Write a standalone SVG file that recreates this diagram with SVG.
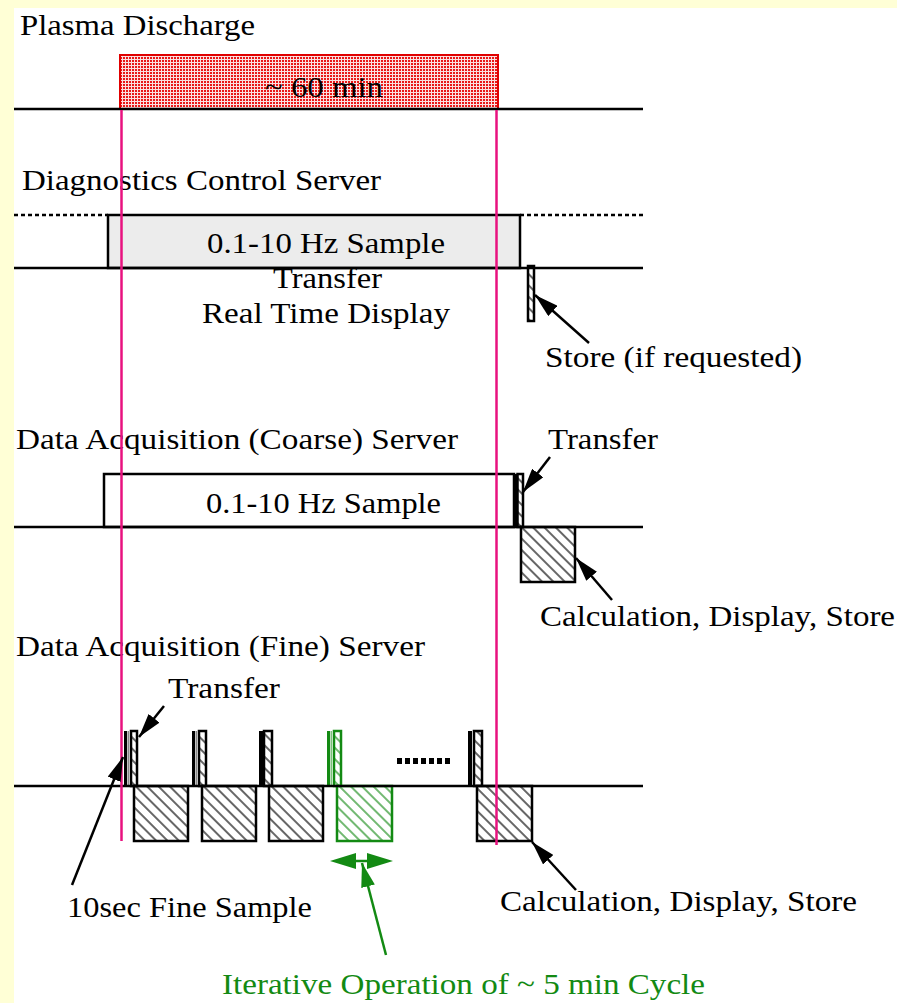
<svg xmlns="http://www.w3.org/2000/svg" width="897" height="1003" viewBox="0 0 897 1003">
  <style>
    text { font-family: "Liberation Serif", "Times New Roman", serif; font-size: 29px; fill: #000; }
    .grn { fill: #138a13; }
    .axis { stroke: #000; stroke-width: 2.5; fill: none; }
    .marker-line { stroke: #e8127f; stroke-width: 2.5; fill: none; }
    .hatch { fill: url(#hatch); stroke: #000; stroke-width: 2.5; }
    .hatch-g { fill: url(#hatchG); stroke: #138a13; stroke-width: 2.5; }
    .lead { stroke: #000; stroke-width: 2.5; fill: none; }
    .lead-g { stroke: #138a13; stroke-width: 2.5; fill: none; }
  </style>
  <defs>
    <pattern id="hatch" width="8" height="8" patternUnits="userSpaceOnUse" patternTransform="rotate(45)">
      <rect width="8" height="8" fill="#fff"/>
      <line x1="0" y1="4" x2="8" y2="4" stroke="#000" stroke-width="1.2"/>
    </pattern>
    <pattern id="hatchG" width="8" height="8" patternUnits="userSpaceOnUse" patternTransform="rotate(45)">
      <rect width="8" height="8" fill="#fff"/>
      <line x1="0" y1="4" x2="8" y2="4" stroke="#138a13" stroke-width="1.2"/>
    </pattern>
    <pattern id="dots" width="3" height="3" patternUnits="userSpaceOnUse">
      <rect width="3" height="3" fill="#fbe0e0"/>
      <rect width="2" height="2" fill="#e81818"/>
    </pattern>
    <marker id="arrow" viewBox="0 0 24 14" refX="24" refY="7" markerWidth="24" markerHeight="14" markerUnits="userSpaceOnUse" orient="auto">
      <path d="M0,0 L24,7 L0,14 Z" fill="#000"/>
    </marker>
    <marker id="arrowG" viewBox="0 0 24 14" refX="24" refY="7" markerWidth="24" markerHeight="14" markerUnits="userSpaceOnUse" orient="auto">
      <path d="M0,0 L24,7 L0,14 Z" fill="#138a13"/>
    </marker>
  </defs>

  <!-- page -->
  <rect width="897" height="1003" fill="#fff"/>
  <rect x="0" y="0" width="897" height="8" fill="#ffffd6"/>
  <rect x="0" y="0" width="14" height="1003" fill="#ffffd6"/>

  <!-- Plasma discharge -->
  <g id="plasma">
    <text x="20" y="35" textLength="235" lengthAdjust="spacingAndGlyphs">Plasma Discharge</text>
    <rect x="120" y="55" width="378" height="54" fill="url(#dots)" stroke="#e00000" stroke-width="2"/>
    <text x="265" y="97" textLength="118" lengthAdjust="spacingAndGlyphs">~ 60 min</text>
  </g>

  <!-- Diagnostics control server -->
  <g id="dcs">
    <text x="22" y="190" textLength="359" lengthAdjust="spacingAndGlyphs">Diagnostics Control Server</text>
    <rect x="108" y="215" width="412" height="53" fill="#ececec" stroke="#000" stroke-width="2.5"/>
    <text x="207" y="253" textLength="238" lengthAdjust="spacingAndGlyphs">0.1-10 Hz Sample</text>
    <text x="273" y="288" textLength="109" lengthAdjust="spacingAndGlyphs">Transfer</text>
    <text x="202" y="323" textLength="248" lengthAdjust="spacingAndGlyphs">Real Time Display</text>
  </g>
  <g id="dcs-store">
    <rect x="528" y="266" width="6" height="55" class="hatch" stroke-width="2"/>
    <text x="545" y="367" textLength="257" lengthAdjust="spacingAndGlyphs">Store (if requested)</text>
  </g>

  <!-- Coarse acquisition server -->
  <g id="coarse">
    <text x="16" y="449" textLength="442" lengthAdjust="spacingAndGlyphs">Data Acquisition (Coarse) Server</text>
    <rect x="104" y="474" width="410" height="53" fill="#fff" stroke="#000" stroke-width="2.5"/>
    <text x="206" y="513" textLength="235" lengthAdjust="spacingAndGlyphs">0.1-10 Hz Sample</text>
  </g>
  <g id="coarse-transfer">
    <rect x="513" y="474" width="4" height="53" fill="#000"/>
    <rect x="517.5" y="474" width="5.5" height="53" class="hatch" stroke-width="2"/>
    <text x="548" y="449" textLength="110" lengthAdjust="spacingAndGlyphs">Transfer</text>
  </g>
  <g id="coarse-calc">
    <rect x="521" y="527" width="54" height="55" class="hatch"/>
    <text x="540" y="626" textLength="355" lengthAdjust="spacingAndGlyphs">Calculation, Display, Store</text>
  </g>

  <!-- Fine acquisition server -->
  <g id="fine">
    <text x="16" y="656" textLength="409" lengthAdjust="spacingAndGlyphs">Data Acquisition (Fine) Server</text>
    <text x="168" y="698" textLength="112" lengthAdjust="spacingAndGlyphs">Transfer</text>
  </g>
  <g id="fine-transfer">
    <rect x="124" y="731" width="3" height="55" fill="#000"/>
    <rect x="127.5" y="731" width="1.5" height="55" fill="#888"/>
    <rect x="131" y="731" width="6" height="55" class="hatch" stroke-width="2"/>
    <rect x="192" y="731" width="3" height="55" fill="#000"/>
    <rect x="195.5" y="731" width="1.5" height="55" fill="#888"/>
    <rect x="199" y="731" width="7" height="55" class="hatch" stroke-width="2"/>
    <rect x="259" y="731" width="4" height="55" fill="#000"/>
    <rect x="264" y="731" width="8" height="55" class="hatch" stroke-width="2"/>
    <rect x="468" y="731" width="4" height="55" fill="#000"/>
    <rect x="474" y="731" width="8" height="55" class="hatch" stroke-width="2"/>
  </g>
  <g id="fine-transfer-iter">
    <rect x="327" y="731" width="3" height="55" fill="#138a13"/>
    <rect x="330.5" y="731" width="1.5" height="55" fill="#7cc07c"/>
    <rect x="334" y="731" width="7" height="55" class="hatch-g" stroke-width="2"/>
  </g>
  <g id="fine-calc">
    <rect x="134" y="786" width="54" height="55" class="hatch"/>
    <rect x="202" y="786" width="54" height="55" class="hatch"/>
    <rect x="269" y="786" width="54" height="55" class="hatch"/>
    <rect x="477" y="786" width="55" height="55" class="hatch"/>
  </g>
  <g id="fine-calc-iter">
    <rect x="337" y="786" width="55" height="55" class="hatch-g"/>
  </g>
  <g id="ellipsis">
    <rect x="397" y="758" width="5" height="6" fill="#000"/>
    <rect x="405" y="758" width="5" height="6" fill="#000"/>
    <rect x="413" y="758" width="5" height="6" fill="#000"/>
    <rect x="421" y="758" width="5" height="6" fill="#000"/>
    <rect x="429" y="758" width="5" height="6" fill="#000"/>
    <rect x="437" y="758" width="5" height="6" fill="#000"/>
    <rect x="445" y="758" width="5" height="6" fill="#000"/>
  </g>
  <g id="fine-labels">
    <text x="67" y="917" textLength="245" lengthAdjust="spacingAndGlyphs">10sec Fine Sample</text>
    <text x="500" y="911" textLength="357" lengthAdjust="spacingAndGlyphs">Calculation, Display, Store</text>
    <text class="grn" x="222" y="994" textLength="483" lengthAdjust="spacingAndGlyphs">Iterative Operation of ~ 5 min Cycle</text>
  </g>

  <!-- timeline axes, discharge markers and leaders -->
  <g id="connectors">
    <line class="axis" x1="14" y1="109" x2="643" y2="109"/>
    <line x1="14" y1="215" x2="108" y2="215" stroke="#000" stroke-width="2.5" stroke-dasharray="4,3"/>
    <line x1="520" y1="215" x2="643" y2="215" stroke="#000" stroke-width="2.5" stroke-dasharray="4,3"/>
    <line class="axis" x1="14" y1="268" x2="643" y2="268"/>
    <line class="axis" x1="14" y1="527" x2="643" y2="527"/>
    <line class="axis" x1="14" y1="786" x2="643" y2="786"/>

    <line class="marker-line" x1="121.5" y1="110" x2="121.5" y2="841"/>
    <line class="marker-line" x1="496.5" y1="110" x2="496.5" y2="845"/>

    <line class="lead" x1="589" y1="343" x2="535" y2="295" marker-end="url(#arrow)"/>
    <line class="lead" x1="550" y1="457" x2="523" y2="492" marker-end="url(#arrow)"/>
    <line class="lead" x1="612" y1="600" x2="576" y2="558" marker-end="url(#arrow)"/>
    <line class="lead" x1="164" y1="706" x2="139" y2="737" marker-end="url(#arrow)"/>
    <line class="lead" x1="72" y1="885" x2="123" y2="757" marker-end="url(#arrow)"/>
    <line class="lead" x1="576" y1="890" x2="532" y2="842" marker-end="url(#arrow)"/>

    <line class="lead-g" x1="355" y1="861" x2="368" y2="861"/>
    <path d="M330,861 L356,853 L356,869 Z" fill="#138a13"/>
    <path d="M393,861 L367,853 L367,869 Z" fill="#138a13"/>
    <line class="lead-g" x1="386" y1="955" x2="362" y2="863" marker-end="url(#arrowG)"/>
  </g>
</svg>
